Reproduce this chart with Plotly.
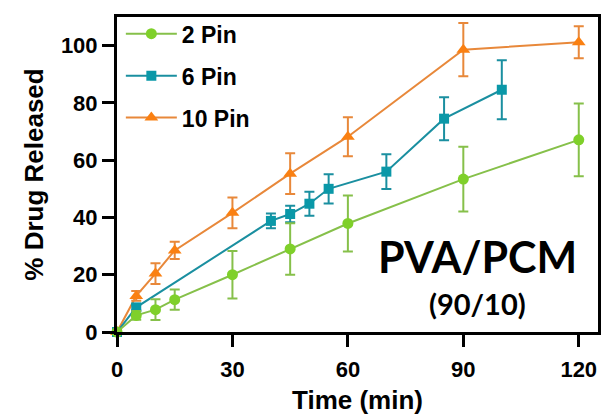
import plotly.graph_objects as go

# Data
t_2pin = [0, 5, 10, 15, 30, 45, 60, 90, 120]
y_2pin = [0, 5.8, 7.8, 11.3, 20.0, 29.0, 37.9, 53.4, 67.1]
e_2pin = [0, 1.5, 3.6, 3.5, 8.3, 9.0, 9.8, 11.3, 12.7]

t_6pin = [0, 5, 40, 45, 50, 55, 70, 85, 100]
y_6pin = [0, 8.6, 38.8, 41.2, 44.8, 50.0, 56.0, 74.5, 84.6]
e_6pin = [0, 1.0, 2.6, 2.9, 4.2, 5.1, 6.1, 7.5, 10.3]

t_10pin = [0, 5, 10, 15, 30, 45, 60, 90, 120]
y_10pin = [0, 12.6, 20.4, 28.5, 41.6, 55.3, 68.2, 98.6, 101.2]
e_10pin = [0, 1.7, 3.6, 3.0, 5.4, 7.1, 6.8, 9.3, 5.6]

x_ticks = [0, 30, 60, 90, 120]
y_ticks = [0, 20, 40, 60, 80, 100]

GREEN_M, GREEN_L = "#7fd02a", "#86c04a"
TEAL_M, TEAL_L = "#0a98a8", "#1a8fa0"
ORANGE_M, ORANGE_L = "#fa8012", "#e8883a"

fig = go.Figure()

def add(name, t, y, e, mcol, lcol, symbol, size, rank):
    fig.add_trace(go.Scatter(
        x=t, y=y, name=name, mode="lines+markers",
        line=dict(color=lcol, width=2),
        marker=dict(color=mcol, symbol=symbol, size=size, line=dict(width=0)),
        error_y=dict(type="data", array=e, visible=True, color=lcol, thickness=2, width=5),
        legendgroup=name, legendrank=rank, cliponaxis=False,
    ))

add("10 Pin", t_10pin, y_10pin, e_10pin, ORANGE_M, ORANGE_L, "triangle-up", 12, 3)
add("6 Pin", t_6pin, y_6pin, e_6pin, TEAL_M, TEAL_L, "square", 10, 2)
add("2 Pin", t_2pin, y_2pin, e_2pin, GREEN_M, GREEN_L, "circle", 11, 1)

axis_common = dict(
    showline=True, linecolor="black", linewidth=3, mirror=True,
    ticks="outside", ticklen=12, tickwidth=3, tickcolor="black",
    showgrid=False, zeroline=False, automargin=False,
    tickfont=dict(family="Liberation Sans", size=22, color="black", weight="bold"),
)

fig.update_xaxes(range=[0, 125], tickvals=x_ticks, ticklabelstandoff=4,
                 title=dict(text="<b>Time (min)</b>", font=dict(family="Liberation Sans", size=26, color="black"), standoff=16),
                 **axis_common)
fig.update_yaxes(range=[0, 110], tickvals=y_ticks,
                 title=dict(text="<b>% Drug Released</b>", font=dict(family="Liberation Sans", size=26, color="black"), standoff=10),
                 **axis_common)

fig.add_annotation(x=0.75, y=0.241, xref="paper", yref="paper", showarrow=False,
                   xanchor="center", yanchor="middle",
                   text="<b>PVA/PCM</b>", font=dict(family="Lato", size=43, color="black"))
fig.add_annotation(x=0.75, y=0.091, xref="paper", yref="paper", showarrow=False,
                   xanchor="center", yanchor="middle",
                   text="<b>(90/10)</b>", font=dict(family="Lato", size=29, color="black"))

fig.update_layout(
    width=613, height=415,
    margin=dict(l=117, r=15, t=13, b=83),
    paper_bgcolor="white", plot_bgcolor="white",
    legend=dict(x=0.008, y=1.015, xanchor="left", yanchor="top",
                font=dict(family="Liberation Sans", size=23, color="black", weight="bold"),
                tracegroupgap=9, itemwidth=51, bgcolor="rgba(0,0,0,0)"),
    showlegend=True,
)

fig.write_html("out.html", config={"displayModeBar": False},
               post_script="document.body.style.margin='0';")
